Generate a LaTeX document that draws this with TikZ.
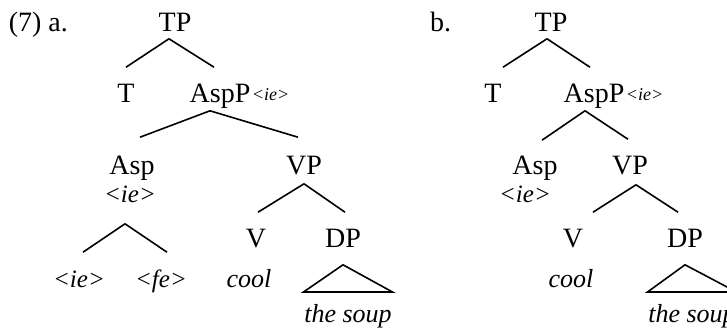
\documentclass[tikz,border=0pt]{standalone}
\usepackage{fontspec}
\setmainfont{Liberation Serif}
\tikzset{
  cat/.style={font=\fontsize{14}{16}\selectfont,inner sep=0pt,anchor=base,text height=9.5pt,text depth=0pt},
  feat/.style={font=\fontsize{12.5}{14}\selectfont\itshape,inner sep=0pt,anchor=base,text height=8pt,text depth=2pt},
  sub/.style={font=\fontsize{9}{10}\selectfont\itshape,inner sep=0pt,anchor=base west},
  word/.style={font=\fontsize{13}{15}\selectfont\itshape,inner sep=0pt,anchor=base},
}
\begin{document}
\begin{tikzpicture}[x=0.5pt,y=-0.5pt,line width=0.8pt]
\useasboundingbox (0,0) rectangle (727,332);
% (7a)
\node[cat,anchor=base west] (labA) at (8,32) {(7) a.};
\node[cat] (tpA) at (175,32) {TP};
\node[cat] (tA) at (126,102) {T};
\node[cat] (asppA) at (220,102) {AspP};
\node[sub] (asppAi) at ([yshift=0.8pt]asppA.base east) {\textless ie\textgreater};
\node[cat] (aspA) at (132,174) {Asp};
\node[feat] (aspAf) at (130,202) {\textless ie\textgreater};
\node[cat] (vpA) at (304,174) {VP};
\node[feat] (ieA) at (79,287) {\textless ie\textgreater};
\node[feat] (feA) at (161,287) {\textless fe\textgreater};
\node[cat] (vA) at (256,247) {V};
\node[cat] (dpA) at (343,247) {DP};
\node[word] (coolA) at (249,287) {cool};
\node[word] (soupA) at (348,322) {the soup};
\draw ([xshift=-3pt,yshift=-3pt]tpA.south) -- ([yshift=7.5pt]tA.north);
\draw ([xshift=-3pt,yshift=-3pt]tpA.south) -- ([xshift=-3pt,yshift=7.5pt]asppA.north);
\draw ([xshift=-5pt,yshift=-4pt]asppA.south) -- ([xshift=4pt,yshift=8.5pt]aspA.north);
\draw ([xshift=-5pt,yshift=-4pt]asppA.south) -- ([xshift=-3pt,yshift=8.5pt]vpA.north);
\draw ([xshift=-2.5pt,yshift=-8.5pt]aspAf.south) -- ([xshift=2pt,yshift=9pt]ieA.north);
\draw ([xshift=-2.5pt,yshift=-8.5pt]aspAf.south) -- ([xshift=3pt,yshift=9pt]feA.north);
\draw ([yshift=-4.5pt]vpA.south) -- ([xshift=1pt,yshift=7.5pt]vA.north);
\draw ([yshift=-4.5pt]vpA.south) -- ([xshift=1pt,yshift=7.5pt]dpA.north);
\draw ([yshift=-8.5pt]dpA.south) -- ([yshift=15pt]soupA.base west) -- ([yshift=15pt]soupA.base east) -- cycle;
% (7b)
\node[cat,anchor=base east] (labB) at (452,32) {b.};
\node[cat] (tpB) at (551,32) {TP};
\node[cat] (tB) at (493,102) {T};
\node[cat] (asppB) at (594,102) {AspP};
\node[sub] (asppBi) at ([yshift=0.8pt]asppB.base east) {\textless ie\textgreater};
\node[cat] (aspB) at (535,174) {Asp};
\node[feat] (aspBf) at (525,202) {\textless ie\textgreater};
\node[cat] (vpB) at (630,174) {VP};
\node[cat] (vB) at (573,247) {V};
\node[cat] (dpB) at (685,247) {DP};
\node[word] (coolB) at (571,287) {cool};
\node[word] (soupB) at (692,322) {the soup};
\draw ([xshift=-2pt,yshift=-3pt]tpB.south) -- ([xshift=5pt,yshift=7.5pt]tB.north);
\draw ([xshift=-2pt,yshift=-3pt]tpB.south) -- ([xshift=-2pt,yshift=7.5pt]asppB.north);
\draw ([xshift=-4.5pt,yshift=-4pt]asppB.south) -- ([xshift=3.5pt,yshift=7pt]aspB.north);
\draw ([xshift=-4.5pt,yshift=-4pt]asppB.south) -- ([xshift=-1pt,yshift=7.5pt]vpB.north);
\draw ([xshift=3pt,yshift=-5pt]vpB.south) -- ([xshift=10pt,yshift=7.5pt]vB.north);
\draw ([xshift=3pt,yshift=-5pt]vpB.south) -- ([xshift=-3.5pt,yshift=7.5pt]dpB.north);
\draw ([yshift=-8.5pt]dpB.south) -- ([yshift=15pt]soupB.base west) -- ([yshift=15pt]soupB.base east) -- cycle;
\end{tikzpicture}
\end{document}
